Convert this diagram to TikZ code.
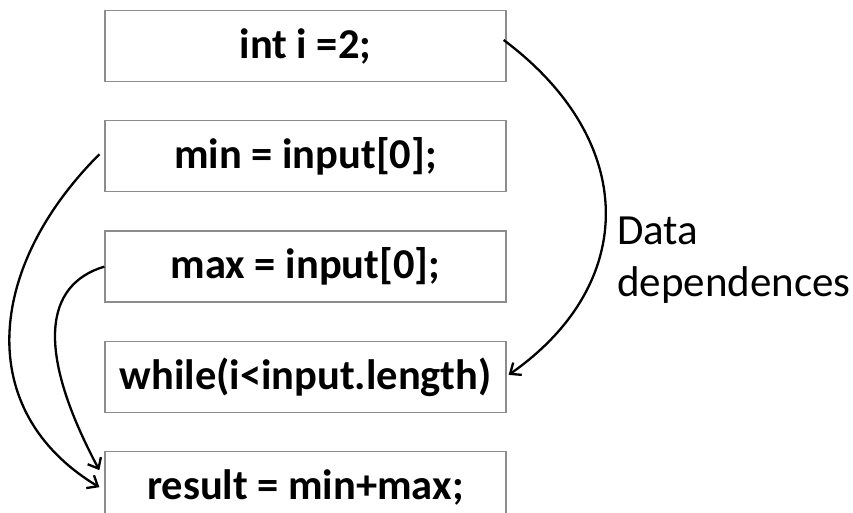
\documentclass[tikz,border=0pt]{standalone}
\usepackage{fontspec}
\setmainfont{Carlito}
\usepackage{tikz}
\usetikzlibrary{arrows.meta, positioning}
\tikzstyle{codebox} = [rectangle, 
minimum width=401pt, 
minimum height=71pt, 
text centered, 
draw=black!45, 
line width=1.3pt, 
font=\fontsize{42.5}{50}\selectfont\bfseries]
\tikzstyle{arrow} = [line width=2.3pt,-{Straight Barb[length=9pt,width=15pt]}]
\tikzstyle{labeltext} = [align=left, 
inner sep=0pt, 
font=\fontsize{43}{52}\selectfont]

\begin{document}
\begin{tikzpicture}[x=1pt, y=-1pt, node distance=38pt]
        \useasboundingbox (0,0) rectangle (853,513);

        % --- Definición de nodos ---
        \node (intbox) [codebox] at (305.5,46) {int i =2;};
        \node (minbox) [codebox, below=of intbox] {min = input[0];};
        \node (maxbox) [codebox, below=of minbox] {max = input[0];};
        \node (whilebox) [codebox, below=of maxbox] {while(i<input.length)};
        \node (resbox) [codebox, below=of whilebox] {result = min+max;};

        \node (deplabel) [labeltext, anchor=north west] at (617,217) {Data\\dependences};

        % --- Conexiones ---
        \draw [arrow] ([xshift=-3pt,yshift=6pt]intbox.east) .. controls +(135,101) and +(130,-91) .. ([xshift=2pt,yshift=2pt]whilebox.east);
        \draw [arrow] ([xshift=-5pt,yshift=2pt]minbox.west) .. controls +(-113,113) and +(-126,-76) .. ([xshift=-5pt]resbox.west);
        \draw [arrow] (maxbox.west) .. controls +(-60,18) and +(-64,-120) .. ([xshift=-5pt,yshift=17pt]resbox.west);

    \end{tikzpicture}
\end{document}
